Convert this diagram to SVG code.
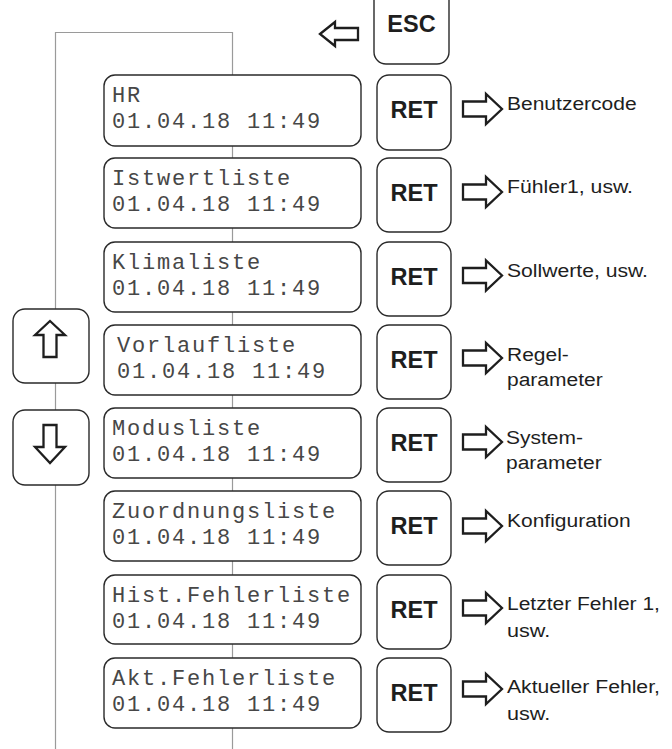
<svg xmlns="http://www.w3.org/2000/svg" xmlns:xlink="http://www.w3.org/1999/xlink" width="672" height="749" viewBox="0 0 672 749">
<style>
.bg{fill:#fff}
.line{stroke:#9a9a9a;stroke-width:1.2;fill:none}
.lcd{fill:#fff;stroke:#2a2a2a;stroke-width:1.4}
.key{fill:#fff;stroke:#2a2a2a;stroke-width:1.4}
.arrow{fill:#fff;stroke:#1e1e1e;stroke-width:2.3;stroke-linejoin:miter}
.mono{font-family:"Liberation Mono","DejaVu Sans Mono",monospace;font-size:22px;letter-spacing:1.8px;fill:#474747}
.keyt{font-family:"Liberation Sans",Arial,sans-serif;font-size:23.5px;font-weight:bold;fill:#1e1e1e;text-anchor:middle}
.lbl{font-family:"Liberation Sans",Arial,sans-serif;font-size:18px;fill:#1e1e1e}
</style>
<defs>
<path id="ra" d="M463,-7.5 H486 V-15 L502,0 L486,15 V7.5 H463 Z"/>
</defs>
<rect class="bg" x="0" y="0" width="672" height="749"/>
<g id="connectors">
<polyline class="line" points="55.5,749 55.5,32.5 232.5,32.5 232.5,749"/>
</g>
<g id="esc">
<rect class="key" x="374" y="-12" width="75" height="76" rx="12"/>
<text class="keyt" x="411.5" y="32">ESC</text>
<path class="arrow" d="M320,34 L335,22 V28 H358 V40 H335 V46 Z"/>
</g>
<g id="up">
<rect class="key" x="13" y="309" width="76" height="74" rx="12"/>
<path class="arrow" d="M50,321 L65,335 H56.5 V357 H43.5 V335 H35 Z"/>
</g>
<g id="down">
<rect class="key" x="13" y="410" width="76" height="75" rx="12"/>
<path class="arrow" d="M43.5,425 H56.5 V447 H65 L50,463 L35,447 H43.5 Z"/>
</g>
<g id="row1">
<rect class="lcd" x="104" y="75" width="257" height="71" rx="11"/>
<text class="mono" x="112" y="102">HR</text>
<text class="mono" x="112" y="128">01.04.18 11:49</text>
<rect class="key" x="377" y="75" width="74" height="75" rx="12"/>
<text class="keyt" x="414" y="118">RET</text>
<use xlink:href="#ra" class="arrow" transform="translate(0,109)"/>
<text class="lbl" x="507" y="110" textLength="129.6" lengthAdjust="spacingAndGlyphs">Benutzercode</text>
</g>
<g id="row2">
<rect class="lcd" x="104" y="158" width="257" height="70" rx="11"/>
<text class="mono" x="112" y="185">Istwertliste</text>
<text class="mono" x="112" y="211">01.04.18 11:49</text>
<rect class="key" x="377" y="158" width="74" height="74" rx="12"/>
<text class="keyt" x="414" y="201">RET</text>
<use xlink:href="#ra" class="arrow" transform="translate(0,192)"/>
<text class="lbl" x="507" y="193" textLength="126" lengthAdjust="spacingAndGlyphs">Fühler1, usw.</text>
</g>
<g id="row3">
<rect class="lcd" x="104" y="242" width="257" height="70" rx="11"/>
<text class="mono" x="112" y="269">Klimaliste</text>
<text class="mono" x="112" y="295">01.04.18 11:49</text>
<rect class="key" x="377" y="242" width="74" height="74" rx="12"/>
<text class="keyt" x="414" y="285">RET</text>
<use xlink:href="#ra" class="arrow" transform="translate(0,275.5)"/>
<text class="lbl" x="507" y="277" textLength="141" lengthAdjust="spacingAndGlyphs">Sollwerte, usw.</text>
</g>
<g id="row4">
<rect class="lcd" x="104" y="325" width="257" height="70" rx="11"/>
<text class="mono" x="117" y="352">Vorlaufliste</text>
<text class="mono" x="117" y="378">01.04.18 11:49</text>
<rect class="key" x="377" y="325" width="74" height="74" rx="12"/>
<text class="keyt" x="414" y="368">RET</text>
<use xlink:href="#ra" class="arrow" transform="translate(0,358)"/>
<text class="lbl" x="507" y="361" textLength="61.8" lengthAdjust="spacingAndGlyphs">Regel-</text>
<text class="lbl" x="507" y="386" textLength="95.7" lengthAdjust="spacingAndGlyphs">parameter</text>
</g>
<g id="row5">
<rect class="lcd" x="104" y="408" width="257" height="70" rx="11"/>
<text class="mono" x="112" y="435">Modusliste</text>
<text class="mono" x="112" y="461">01.04.18 11:49</text>
<rect class="key" x="377" y="408" width="74" height="74" rx="12"/>
<text class="keyt" x="414" y="451">RET</text>
<use xlink:href="#ra" class="arrow" transform="translate(0,442)"/>
<text class="lbl" x="506" y="444" textLength="77" lengthAdjust="spacingAndGlyphs">System-</text>
<text class="lbl" x="506" y="469" textLength="95.7" lengthAdjust="spacingAndGlyphs">parameter</text>
</g>
<g id="row6">
<rect class="lcd" x="104" y="491" width="257" height="70" rx="11"/>
<text class="mono" x="112" y="518">Zuordnungsliste</text>
<text class="mono" x="112" y="544">01.04.18 11:49</text>
<rect class="key" x="377" y="491" width="74" height="74" rx="12"/>
<text class="keyt" x="414" y="534">RET</text>
<use xlink:href="#ra" class="arrow" transform="translate(0,526)"/>
<text class="lbl" x="507" y="527" textLength="123.7" lengthAdjust="spacingAndGlyphs">Konfiguration</text>
</g>
<g id="row7">
<rect class="lcd" x="104" y="575" width="257" height="69" rx="11"/>
<text class="mono" x="112" y="602">Hist.Fehlerliste</text>
<text class="mono" x="112" y="628">01.04.18 11:49</text>
<rect class="key" x="377" y="575" width="74" height="74" rx="12"/>
<text class="keyt" x="414" y="618">RET</text>
<use xlink:href="#ra" class="arrow" transform="translate(0,608)"/>
<text class="lbl" x="507" y="610" textLength="152.9" lengthAdjust="spacingAndGlyphs">Letzter Fehler 1,</text>
<text class="lbl" x="507" y="637" textLength="43.2" lengthAdjust="spacingAndGlyphs">usw.</text>
</g>
<g id="row8">
<rect class="lcd" x="104" y="658" width="257" height="70" rx="11"/>
<text class="mono" x="112" y="685">Akt.Fehlerliste</text>
<text class="mono" x="112" y="711">01.04.18 11:49</text>
<rect class="key" x="377" y="658" width="74" height="74" rx="12"/>
<text class="keyt" x="414" y="701">RET</text>
<use xlink:href="#ra" class="arrow" transform="translate(0,689)"/>
<text class="lbl" x="507" y="693" textLength="152.9" lengthAdjust="spacingAndGlyphs">Aktueller Fehler,</text>
<text class="lbl" x="507" y="720" textLength="43.2" lengthAdjust="spacingAndGlyphs">usw.</text>
</g>
</svg>
